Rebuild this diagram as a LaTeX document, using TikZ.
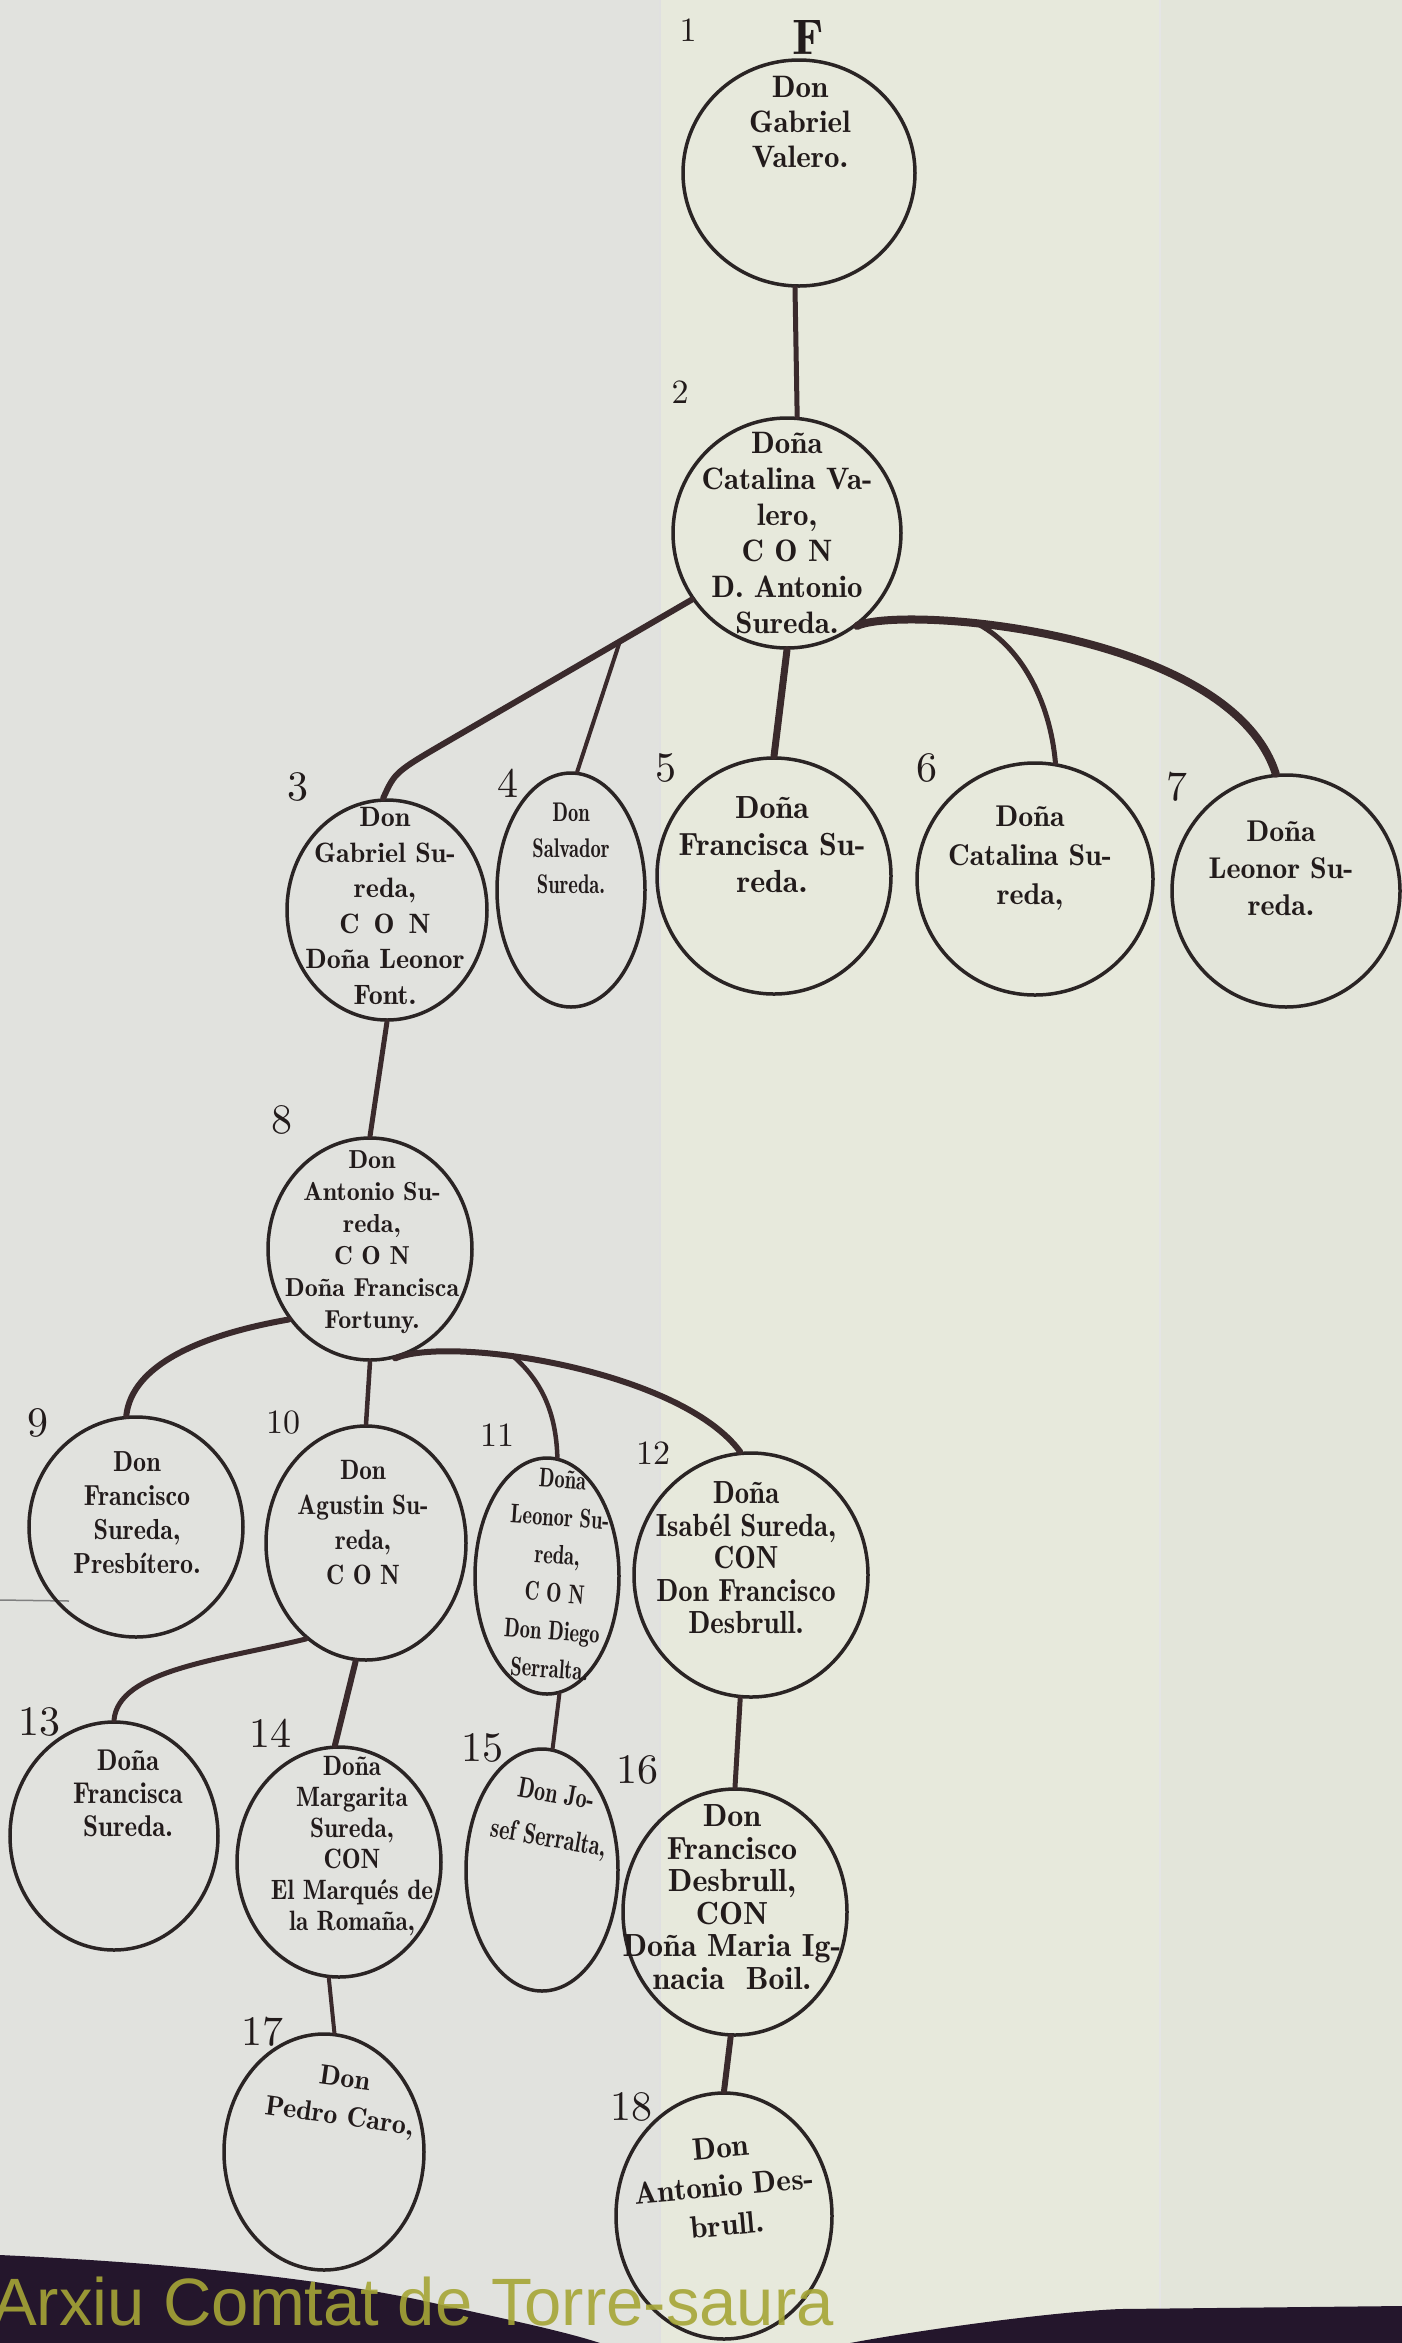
\documentclass[tikz,border=0pt]{standalone}
\usepackage{fontspec}
\setmainfont{lmromandemi10-regular.otf}[ItalicFont=lmroman10-italic.otf]
\newfontfamily\condA{lmromandemi10-regular.otf}[FakeStretch=0.76]
\newfontfamily\condB{lmromandemi10-regular.otf}[FakeStretch=0.9]
\newfontfamily\numfont{lmroman10-regular.otf}
\newfontfamily\wmfont{Liberation Sans}
\usetikzlibrary{shapes.geometric}
\definecolor{ink}{HTML}{221B1B}
\definecolor{rim}{HTML}{2A2424}
\definecolor{linec}{HTML}{3A2A2C}
\definecolor{paperL}{HTML}{E1E2DE}
\definecolor{paperM}{HTML}{E7E9DC}
\definecolor{paperR}{HTML}{E3E5DA}
\definecolor{band}{HTML}{24162C}
\definecolor{wm}{HTML}{A6A636}
\tikzset{
  person/.style={draw=rim, line width=3.5pt, ellipse, inner sep=0pt},
  pers/.style 2 args={person, minimum width=#1, minimum height=#2},
  txt/.style={align=center, text=ink, inner sep=0pt},
  lab/.style={font=\numfont\fontsize{42}{42}\selectfont, text=ink, inner sep=0pt},
  labs/.style={font=\numfont\fontsize{34}{34}\selectfont, text=ink, inner sep=0pt},
  conn/.style={draw=linec, line width=5pt, line cap=round}
}
\begin{document}
\begin{tikzpicture}[x=1pt,y=-1pt]
\useasboundingbox (0,0) rectangle (1402,2343);
% paper
\fill[paperL] (0,0) rectangle (660,2343);
\fill[paperM] (660,0) rectangle (1160,2343);
\fill[paperR] (1160,0) rectangle (1402,2343);
\draw[draw=black!12, line width=1.5pt] (660,0) -- (660,2343);
\draw[draw=black!10, line width=1.5pt] (1160,0) -- (1160,2343);
\draw[draw=black!50, line width=1.5pt] (0,1600) -- (69,1601);

% persons
\node[pers={232pt}{226pt}] (n1) at (799,173) {};
\node[pers={228pt}{230pt}] (n2) at (787,533) {};
\node[pers={200pt}{220pt}] (n3) at (387,910) {};
\node[pers={148pt}{234pt}] (n4) at (571,890) {};
\node[pers={234pt}{236pt}] (n5) at (774,876) {};
\node[pers={236pt}{232pt}] (n6) at (1035,879) {};
\node[pers={228pt}{232pt}] (n7) at (1286,891) {};
\node[pers={204pt}{222pt}] (n8) at (370,1249) {};
\node[pers={214pt}{220pt}] (n9) at (136,1527) {};
\node[pers={200pt}{234pt}] (n10) at (366,1543) {};
\node[pers={144pt}{236pt}] (n11) at (547,1576) {};
\node[pers={234pt}{244pt}] (n12) at (751,1575) {};
\node[pers={208pt}{228pt}] (n13) at (114,1836) {};
\node[pers={204pt}{230pt}] (n14) at (339,1862) {};
\node[pers={152pt}{242pt}] (n15) at (542,1870) {};
\node[pers={224pt}{246pt}] (n16) at (735,1912) {};
\node[pers={200pt}{236pt}] (n17) at (324,2152) {};
\node[pers={216pt}{246pt}] (n18) at (724,2216) {};

% texts
\node[txt, font=\fontsize{31}{35}\selectfont] (t1) at (800,122) {Don\\Gabriel\\Valero.};
\node[txt, font=\fontsize{31}{36}\selectfont] (t2) at (787,533) {Doña\\Catalina Va-\\lero,\\C O N\\D. Antonio\\Sureda.};
\node[txt, font=\fontsize{28}{35.5}\selectfont] (t3) at (385,906) {Don\\Gabriel Su-\\reda,\\C\, O\, N\\Doña Leonor\\Font.};
\node[txt, font=\condA\fontsize{27}{36}\selectfont] (t4) at (571,848) {Don\\Salvador\\Sureda.};
\node[txt, font=\fontsize{32}{37}\selectfont] (t5) at (772,845) {Doña\\Francisca Su-\\reda.};
\node[txt, font=\fontsize{30}{39}\selectfont] (t6) at (1030,858) {Doña\\Catalina Su-\\reda,};
\node[txt, font=\fontsize{30}{37}\selectfont] (t7) at (1281,868) {Doña\\Leonor Su-\\reda.};
\node[txt, font=\fontsize{26}{32}\selectfont] (t8) at (372,1242) {Don\\Antonio Su-\\reda,\\C O N\\Doña Francisca\\Fortuny.};
\node[txt, font=\condB\fontsize{29}{34}\selectfont] (t9) at (137,1513) {Don\\Francisco\\Sureda,\\\itshape Presbítero.};
\node[txt, font=\condB\fontsize{28}{35}\selectfont] (t10) at (363,1523) {Don\\Agustin Su-\\reda,\\C O N};
\node[txt, font=\condA\fontsize{27}{38}\selectfont, rotate=-4] (t11) at (556,1574) {Doña\\Leonor Su-\\reda,\\C O N\\Don Diego\\Serralta.};
\node[txt, font=\condB\fontsize{32}{32.5}\selectfont] (t12) at (746,1558) {Doña\\Isabél Sureda,\\CON\\Don Francisco\\Desbrull.};
\node[txt, font=\condB\fontsize{30}{33}\selectfont] (t13) at (128,1793) {Doña\\Francisca\\Sureda.};
\node[txt, font=\condB\fontsize{28}{31}\selectfont] (t14) at (352,1846) {Doña\\Margarita\\Sureda,\\CON\\El Marqués de\\la Romaña,};
\node[txt, font=\condA\fontsize{29}{44}\selectfont, rotate=-10] (t15) at (552,1818) {Don Jo-\\sef Serralta,};
\node[txt, font=\fontsize{32}{32.5}\selectfont] (t16) at (732,1897) {Don\\Francisco\\Desbrull,\\CON\\Doña Maria Ig-\\nacia~~Boil.};
\node[txt, font=\fontsize{28}{38}\selectfont, rotate=-8] (t17) at (342,2099) {Don\\Pedro Caro,};
\node[txt, font=\fontsize{31}{39}\selectfont, rotate=5] (t18) at (724,2186) {Don\\Antonio Des-\\brull.};

% numbers
\node[labs] (l1) at (688,30) {1};
\node[txt, font=\fontsize{50}{50}\selectfont] (lF) at (808,37) {F};
\node[labs] (l2) at (680,392) {2};
\node[lab] (l3) at (298,787) {3};
\node[lab] (l4) at (508,783) {4};
\node[lab] (l5) at (666,768) {5};
\node[lab] (l6) at (927,768) {6};
\node[lab] (l7) at (1177,787) {7};
\node[lab] (l8) at (282,1120) {8};
\node[lab] (l9) at (38,1423) {9};
\node[labs] (l10) at (283,1423) {10};
\node[labs] (l11) at (497,1435) {11};
\node[labs] (l12) at (653,1453) {12};
\node[lab] (l13) at (40,1722) {13};
\node[lab] (l14) at (270,1733) {14};
\node[lab] (l15) at (482,1748) {15};
\node[lab] (l16) at (637,1770) {16};
\node[lab] (l17) at (262,2032) {17};
\node[lab] (l18) at (631,2107) {18};

% connectors
\draw[conn] (n1.268) -- (n2.85);
\coordinate (b4) at (620,641);
\coordinate (k3) at (450,740);
\draw[conn, line width=6pt] (n2.215) .. controls (570,670) .. (k3) .. controls (395,772) .. (n3.92);
\draw[conn, line width=4pt] (b4) -- (n4.87);
\draw[conn, line width=7pt] (n2.south) -- (n5.north);
\draw[conn, line width=8pt] (n2.307) .. controls (900,605) and (1230,630) .. (n7.95);
\coordinate (b6) at (976,623);
\draw[conn, line width=5pt] (b6) .. controls (1020,645) and (1050,700) .. (n6.80);
\draw[conn] (n3.south) -- (n8.north);
\draw[conn, line width=6pt] (n8.221) .. controls (200,1335) and (132,1365) .. (n9.95);
\draw[conn, line width=4.5pt] (n8.south) -- (n10.north);
\draw[conn, line width=6pt] (n8.283) .. controls (450,1335) and (680,1370) .. (n12.95);
\coordinate (b11) at (514,1357);
\draw[conn, line width=4.5pt] (b11) .. controls (540,1380) and (556,1410) .. (n11.85);
\draw[conn, line width=5pt] (n10.238) .. controls (220,1660) and (118,1670) .. (n13.north);
\draw[conn, line width=6pt] (n10.265) -- (n14.92);
\draw[conn, line width=4pt] (n11.276) -- (n15.85);
\draw[conn, line width=5pt] (n12.265) -- (n16.north);
\draw[conn, line width=4pt] (n14.265) -- (n17.85);
\draw[conn, line width=6pt] (n16.268) -- (n18.north);

% scan border and watermark
\fill[band] (0,2255) .. controls (150,2262) and (300,2275) .. (420,2300) .. controls (500,2318) and (560,2330) .. (600,2343) -- (0,2343) -- cycle;
\fill[band] (850,2343) .. controls (920,2330) and (1050,2312) .. (1120,2309) -- (1402,2306) -- (1402,2343) -- cycle;
\node[anchor=base west, inner sep=0pt, text=wm, opacity=0.9, font=\wmfont\fontsize{67}{67}\selectfont] (wmk) at (-8,2325) {Arxiu Comtat de Torre-saura};
\end{tikzpicture}
\end{document}
